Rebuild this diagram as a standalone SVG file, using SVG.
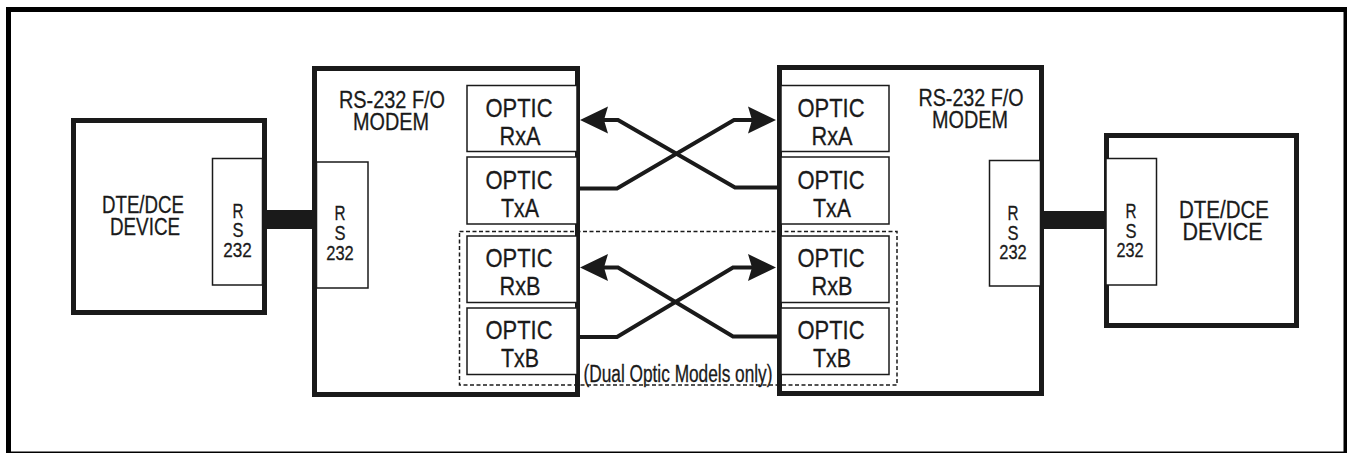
<svg xmlns="http://www.w3.org/2000/svg" width="1347" height="453" viewBox="0 0 1347 453">
<style>
.thick{fill:none;stroke:#1a1a1a;stroke-width:5}
.thin{fill:#fff;stroke:#1a1a1a;stroke-width:1.5}
.bar{fill:#1a1a1a}
.dash{fill:none;stroke:#1a1a1a;stroke-width:1.5;stroke-dasharray:4 2.5}
.wire{fill:none;stroke:#1a1a1a;stroke-width:4;stroke-linejoin:miter}
text{font-family:"Liberation Sans",Arial,sans-serif;fill:#1a1a1a;stroke:#1a1a1a;stroke-width:0.3;text-anchor:middle}
.dev{font-size:23px}
.ttl{font-size:24px}
.opt{font-size:26px}
.rs{font-size:21px}
.note{font-size:23px}
</style>
<defs>
<marker id="ah" viewBox="-6 -15 32 30" refX="0" refY="0" markerWidth="32" markerHeight="30" markerUnits="userSpaceOnUse" orient="auto">
<path d="M24,0 L-4,-13.5 L0,0 L-4,13.5 Z" fill="#1a1a1a"/>
</marker>
</defs>
<rect width="1347" height="453" fill="#fff"/>
<rect id="frame" x="8.5" y="9.5" width="1337.5" height="444.5" class="thick" style="stroke:#000"/>

<g id="device-left">
<rect x="73.5" y="120.5" width="191" height="192" class="thick"/>
<text class="dev" x="143" y="213" textLength="82" lengthAdjust="spacingAndGlyphs">DTE/DCE</text>
<text class="dev" x="145" y="235" textLength="70" lengthAdjust="spacingAndGlyphs">DEVICE</text>
</g>
<g id="rs232-device-left">
<rect x="212.5" y="158.5" width="50" height="126.5" class="thin"/>
<text class="rs" x="238" y="218" textLength="11" lengthAdjust="spacingAndGlyphs">R</text>
<text class="rs" x="238" y="237" textLength="11" lengthAdjust="spacingAndGlyphs">S</text>
<text class="rs" x="237.5" y="257" textLength="28.5" lengthAdjust="spacingAndGlyphs">232</text>
</g>

<g id="modem-left">
<rect x="314.5" y="68.5" width="263" height="326" class="thick"/>
<text class="ttl" x="392" y="108" textLength="106" lengthAdjust="spacingAndGlyphs">RS-232 F/O</text>
<text class="ttl" x="391" y="130" textLength="76" lengthAdjust="spacingAndGlyphs">MODEM</text>
</g>
<g id="rs232-modem-left">
<rect x="316.5" y="162" width="51.5" height="126" class="thin"/>
<text class="rs" x="340" y="220" textLength="11" lengthAdjust="spacingAndGlyphs">R</text>
<text class="rs" x="340" y="240" textLength="11" lengthAdjust="spacingAndGlyphs">S</text>
<text class="rs" x="340" y="260" textLength="27.5" lengthAdjust="spacingAndGlyphs">232</text>
</g>
<g id="optic-rxa-left">
<rect x="467" y="85.5" width="110" height="66" class="thin"/>
<text class="opt" x="519" y="117" textLength="67" lengthAdjust="spacingAndGlyphs">OPTIC</text>
<text class="opt" x="520" y="145" textLength="41" lengthAdjust="spacingAndGlyphs">RxA</text>
</g>
<g id="optic-txa-left">
<rect x="467" y="157" width="110" height="67" class="thin"/>
<text class="opt" x="519" y="188.5" textLength="67" lengthAdjust="spacingAndGlyphs">OPTIC</text>
<text class="opt" x="520" y="216.5" textLength="38" lengthAdjust="spacingAndGlyphs">TxA</text>
</g>
<g id="optic-rxb-left">
<rect x="467" y="236" width="110" height="66.5" class="thin"/>
<text class="opt" x="519" y="267" textLength="67" lengthAdjust="spacingAndGlyphs">OPTIC</text>
<text class="opt" x="520" y="295" textLength="41" lengthAdjust="spacingAndGlyphs">RxB</text>
</g>
<g id="optic-txb-left">
<rect x="467" y="308" width="110" height="66.5" class="thin"/>
<text class="opt" x="519" y="338.5" textLength="67" lengthAdjust="spacingAndGlyphs">OPTIC</text>
<text class="opt" x="520" y="366.5" textLength="38" lengthAdjust="spacingAndGlyphs">TxB</text>
</g>

<g id="modem-right">
<rect x="779.5" y="67.5" width="262" height="326" class="thick"/>
<text class="ttl" x="971" y="106" textLength="105" lengthAdjust="spacingAndGlyphs">RS-232 F/O</text>
<text class="ttl" x="970" y="128" textLength="76" lengthAdjust="spacingAndGlyphs">MODEM</text>
</g>
<g id="rs232-modem-right">
<rect x="989.5" y="160.5" width="51" height="125.5" class="thin"/>
<text class="rs" x="1013" y="220" textLength="11" lengthAdjust="spacingAndGlyphs">R</text>
<text class="rs" x="1013" y="240" textLength="11" lengthAdjust="spacingAndGlyphs">S</text>
<text class="rs" x="1013" y="258.5" textLength="27.5" lengthAdjust="spacingAndGlyphs">232</text>
</g>
<g id="optic-rxa-right">
<rect x="781" y="85.5" width="108" height="66" class="thin"/>
<text class="opt" x="831" y="117" textLength="67" lengthAdjust="spacingAndGlyphs">OPTIC</text>
<text class="opt" x="832" y="145" textLength="41" lengthAdjust="spacingAndGlyphs">RxA</text>
</g>
<g id="optic-txa-right">
<rect x="781" y="157" width="108" height="67" class="thin"/>
<text class="opt" x="831" y="188.5" textLength="67" lengthAdjust="spacingAndGlyphs">OPTIC</text>
<text class="opt" x="832" y="216.5" textLength="38" lengthAdjust="spacingAndGlyphs">TxA</text>
</g>
<g id="optic-rxb-right">
<rect x="781" y="236" width="108" height="66.5" class="thin"/>
<text class="opt" x="831" y="267" textLength="67" lengthAdjust="spacingAndGlyphs">OPTIC</text>
<text class="opt" x="832" y="295" textLength="41" lengthAdjust="spacingAndGlyphs">RxB</text>
</g>
<g id="optic-txb-right">
<rect x="781" y="308" width="108" height="66.5" class="thin"/>
<text class="opt" x="831" y="338.5" textLength="67" lengthAdjust="spacingAndGlyphs">OPTIC</text>
<text class="opt" x="832" y="366.5" textLength="38" lengthAdjust="spacingAndGlyphs">TxB</text>
</g>

<g id="device-right">
<rect x="1106.5" y="135.5" width="190" height="190" class="thick"/>
<text class="dev" x="1224" y="218" textLength="90" lengthAdjust="spacingAndGlyphs">DTE/DCE</text>
<text class="dev" x="1222.5" y="240" textLength="80" lengthAdjust="spacingAndGlyphs">DEVICE</text>
</g>
<g id="rs232-device-right">
<rect x="1106" y="158.5" width="50.5" height="126.5" class="thin"/>
<text class="rs" x="1131" y="218" textLength="11" lengthAdjust="spacingAndGlyphs">R</text>
<text class="rs" x="1131" y="238" textLength="11" lengthAdjust="spacingAndGlyphs">S</text>
<text class="rs" x="1130" y="257" textLength="27" lengthAdjust="spacingAndGlyphs">232</text>
</g>

<g id="dual-optic-group">
<rect x="459.5" y="231.5" width="437.5" height="153.5" class="dash"/>
<text class="note" x="678" y="382" textLength="189" lengthAdjust="spacingAndGlyphs">(Dual Optic Models only)</text>
</g>

<g id="connectors">
<rect x="264" y="210" width="50" height="19" class="bar"/>
<rect x="1042" y="211" width="64" height="18" class="bar"/>
<path d="M580,188.5 H617 L734,120 H752" class="wire" marker-end="url(#ah)"/>
<path d="M777,187.5 H735 L618,120 H604" class="wire" marker-end="url(#ah)"/>
<path d="M580,337 H617 L733,267.5 H752" class="wire" marker-end="url(#ah)"/>
<path d="M777,336.5 H733 L618,267.5 H604" class="wire" marker-end="url(#ah)"/>
</g>
</svg>
